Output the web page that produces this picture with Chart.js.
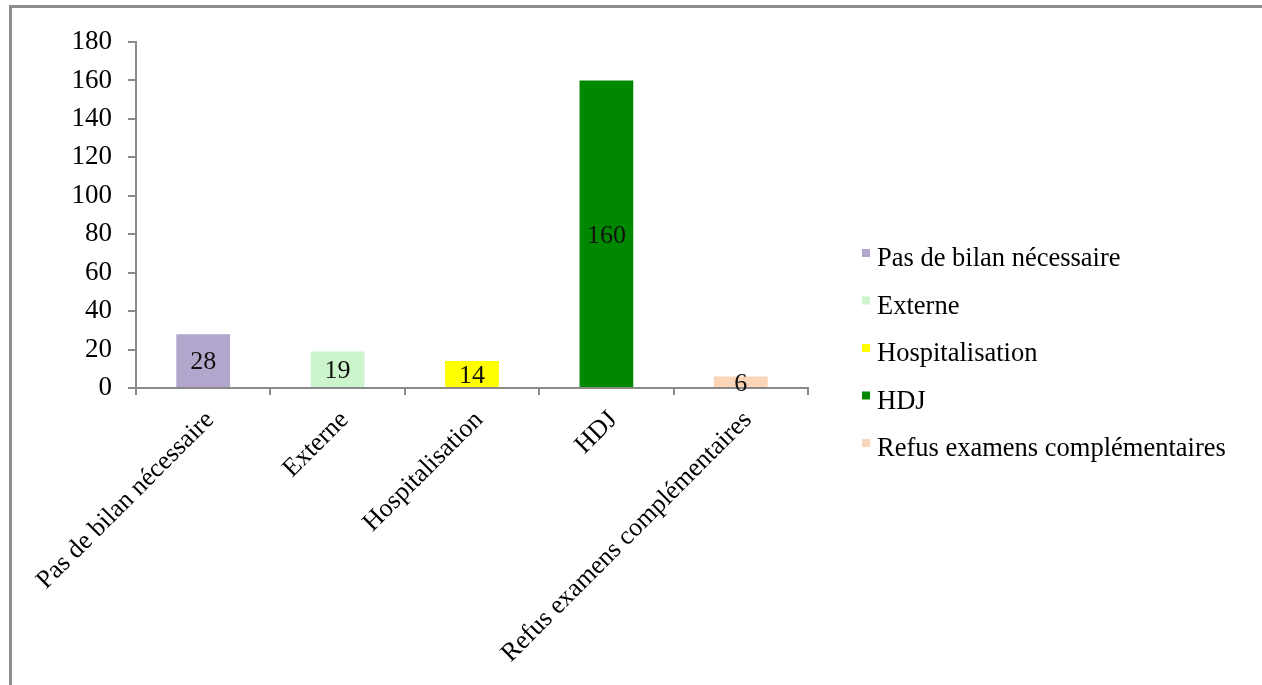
<!DOCTYPE html>
<html>
<head>
<meta charset="utf-8">
<script src="https://cdn.jsdelivr.net/npm/chart.js@4/dist/chart.umd.min.js"></script>
<style>
  html, body { margin: 0; padding: 0; background: #ffffff; overflow: hidden; }
  #frame { position: absolute; left: 9px; top: 5px; width: 1400px; height: 800px;
           border-top: 3px solid #8e8e8e; border-left: 3px solid #8e8e8e; }
  #c { position: absolute; left: 0; top: 0; }
</style>
</head>
<body>
<div id="frame"></div>
<canvas id="c" width="1262" height="685"></canvas>
<script>
const categories = ["Pas de bilan nécessaire", "Externe", "Hospitalisation", "HDJ", "Refus examens complémentaires"];
const values = [28, 19, 14, 160, 6];
const barColors = ["#b3a6cc", "#ccf5cc", "#ffff00", "#008800", "#fbd5b8"];
const yTicks = [0, 20, 40, 60, 80, 100, 120, 140, 160, 180];

const SERIF = "'Liberation Serif', 'Times New Roman', serif";
const AXIS_GREY = "#8a8a8a";

const valueLabels = {
  id: "valueLabels",
  afterDatasetsDraw(chart) {
    const ctx = chart.ctx;
    const meta = chart.getDatasetMeta(0);
    ctx.save();
    ctx.font = "26px " + SERIF;
    ctx.fillStyle = "#111111";
    ctx.textAlign = "center";
    ctx.textBaseline = "middle";
    meta.data.forEach((bar, i) => {
      const mid = (bar.y + bar.base) / 2;
      ctx.fillText(String(values[i]), bar.x, mid + 2);
    });
    ctx.restore();
  }
};

// Legend drawn on the canvas, to the right of the plot area
const sideLegend = {
  id: "sideLegend",
  afterDraw(chart) {
    const ctx = chart.ctx;
    const area = chart.chartArea;
    const boxX = area.right + 54;
    const textX = boxX + 15;
    const firstBaseline = 266;
    const step = 47.5;
    ctx.save();
    ctx.font = "26.5px " + SERIF;
    ctx.textAlign = "left";
    ctx.textBaseline = "alphabetic";
    categories.forEach((c, i) => {
      const base = firstBaseline + i * step;
      ctx.fillStyle = barColors[i];
      ctx.fillRect(boxX, base - 17, 8, 8);
      ctx.fillStyle = "#000000";
      ctx.fillText(c, textX, base);
    });
    ctx.restore();
  }
};

new Chart(document.getElementById("c"), {
  type: "bar",
  data: {
    labels: categories,
    datasets: [{
      data: values,
      backgroundColor: barColors,
      borderWidth: 0,
      categoryPercentage: 1.0,
      barPercentage: 0.4
    }]
  },
  options: {
    responsive: false,
    animation: false,
    devicePixelRatio: 1,
    layout: { padding: { top: 42, left: 0, right: 454, bottom: 0 } },
    plugins: {
      tooltip: { enabled: false },
      legend: { display: false }
    },
    scales: {
      x: {
        grid: { display: true, drawOnChartArea: false, drawTicks: true, tickLength: 7, color: AXIS_GREY, lineWidth: 2, offset: true },
        border: { display: true, color: AXIS_GREY, width: 2 },
        ticks: {
          color: "#000000",
          font: { family: SERIF, size: 26 },
          minRotation: 45,
          maxRotation: 45,
          autoSkip: false,
          padding: 10,
          labelOffset: 7
        },
        afterFit(scale) { scale.height = 685 - 388; }
      },
      y: {
        min: 0,
        max: 180,
        grid: { display: true, drawOnChartArea: false, drawTicks: true, tickLength: 8, color: AXIS_GREY, lineWidth: 2 },
        border: { display: true, color: AXIS_GREY, width: 2 },
        afterBuildTicks(scale) { scale.ticks = yTicks.map(v => ({ value: v })); },
        ticks: {
          color: "#000000",
          font: { family: SERIF, size: 27 },
          padding: 16
        },
        afterFit(scale) { scale.width = 136; }
      }
    }
  },
  plugins: [valueLabels, sideLegend]
});
</script>
</body>
</html>
